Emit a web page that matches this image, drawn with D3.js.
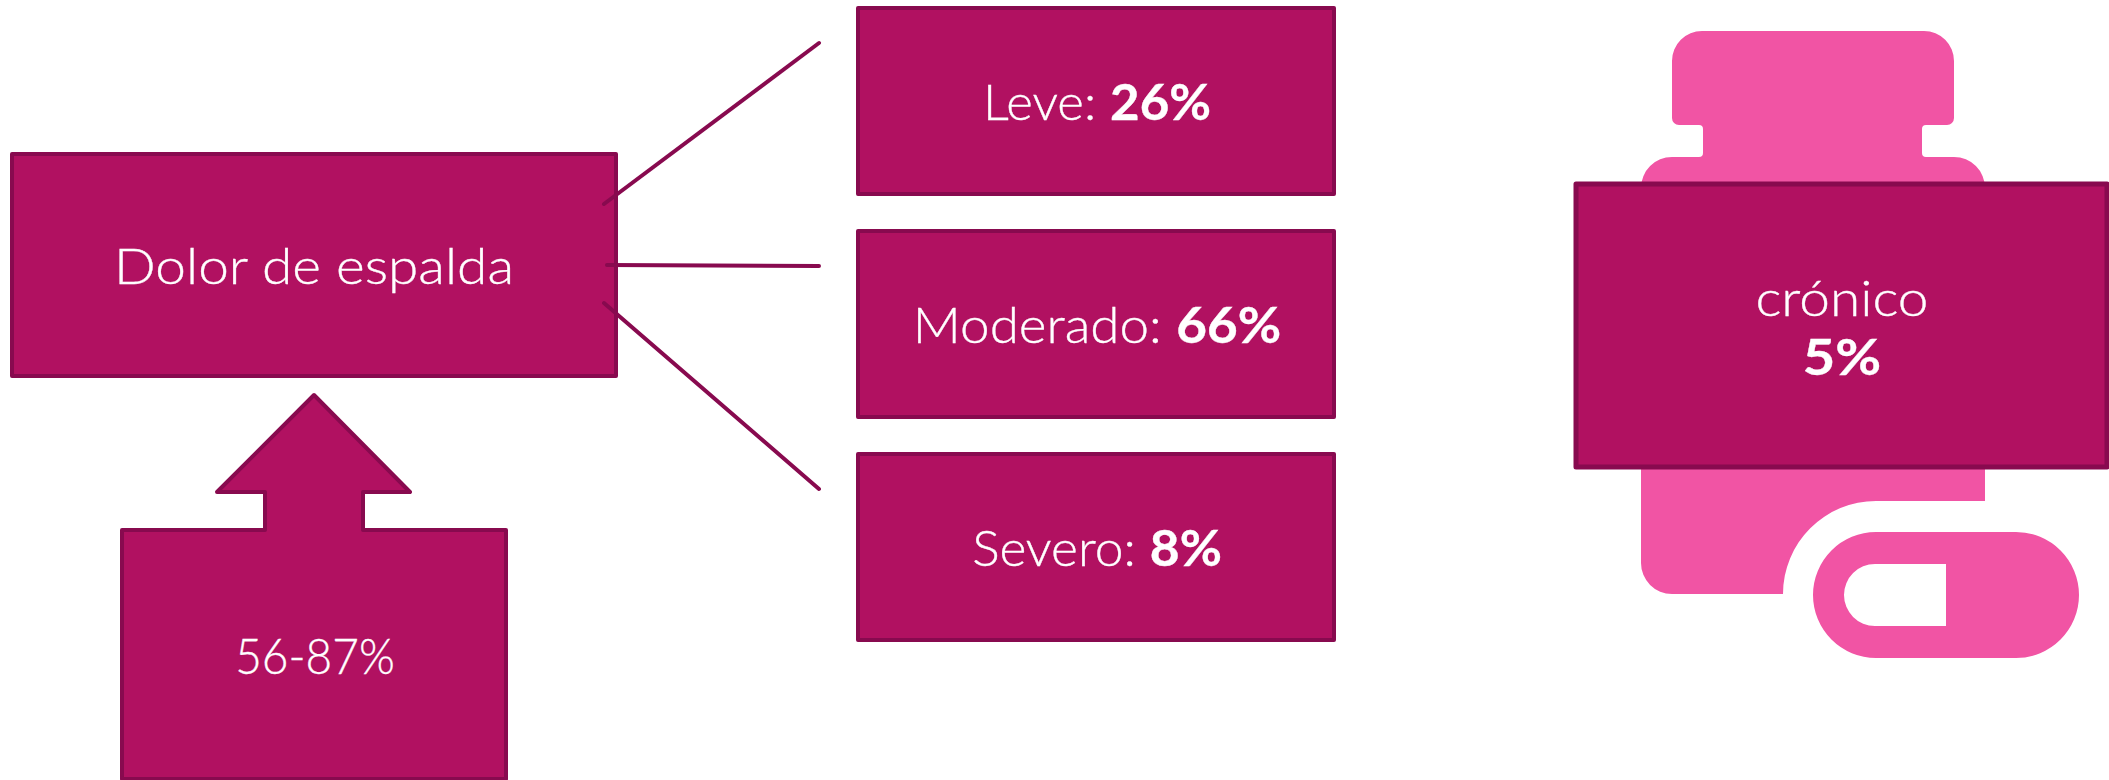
<!DOCTYPE html>
<html><head><meta charset="utf-8">
<script src="https://cdn.jsdelivr.net/npm/d3@7/dist/d3.min.js"></script>
<style>html,body{margin:0;padding:0;background:#fff;overflow:hidden}svg{display:block}</style>
</head><body><svg id="c" width="2109" height="780"></svg>
<script>
const severityLabels = ["Leve", "Moderado", "Severo"];
const severityValues = ["26%", "66%", "8%"];
const mainLabel = "Dolor de espalda";
const rangeLabel = "56-87%";
const chronicLabel = "crónico";
const chronicValue = "5%";

const FILL = "#b11161", STROKE = "#880a4f", PINK = "#f154a4";
const FONT = "Lato, 'Open Sans', sans-serif";
const FS = 50;
const svg = d3.select("#c");

const yBand = d3.scaleBand().domain(severityLabels).range([7, 641]).paddingInner(0.157).paddingOuter(0);
const yLink = d3.scaleOrdinal().domain(severityLabels).range([43, 266, 489]);
const yLinkStart = d3.scaleOrdinal().domain(severityLabels).range([204, 265, 303]);
const xLinkStart = d3.scaleOrdinal().domain(severityLabels).range([604, 607, 604]);
const stretchBy = d3.scaleOrdinal().domain(severityLabels).range([1.02, 1.06, 1.03]);

function box(x0, y0, x1, y1, sw) {
  svg.append("rect").attr("x", x0).attr("y", y0).attr("width", x1 - x0).attr("height", y1 - y0)
    .attr("fill", FILL).attr("stroke", STROKE).attr("stroke-width", sw || 4).attr("stroke-linejoin", "round");
}
function label(cx, base, parts, stretch) {
  const t = svg.append("text").attr("x", cx).attr("y", base).attr("text-anchor", "middle")
    .attr("font-family", FONT).attr("font-size", FS).attr("fill", "#fff")
    .attr("stroke", "#fff").attr("stroke-width", 0.35);
  parts.forEach(p => t.append("tspan").attr("font-weight", p[1] ? 700 : 300).text(p[0]));
  const w = t.node().getComputedTextLength();
  t.attr("textLength", w * stretch).attr("lengthAdjust", "spacingAndGlyphs");
}

// bottle icon
const p = d3.path();
p.moveTo(1702, 31); p.lineTo(1924, 31); p.arcTo(1954, 31, 1954, 61, 30);
p.lineTo(1954, 118); p.arcTo(1954, 125, 1947, 125, 7); p.lineTo(1926, 125);
p.arcTo(1922, 125, 1922, 129, 4); p.lineTo(1922, 153); p.arcTo(1922, 157, 1926, 157, 4);
p.lineTo(1954, 157); p.arcTo(1985, 157, 1985, 188, 31); p.lineTo(1985, 501); p.lineTo(1876, 501);
p.arc(1876, 594, 93, -Math.PI / 2, Math.PI, true);
p.lineTo(1672, 594); p.arcTo(1641, 594, 1641, 563, 31); p.lineTo(1641, 188);
p.arcTo(1641, 157, 1672, 157, 31); p.lineTo(1699, 157); p.arcTo(1703, 157, 1703, 153, 4);
p.lineTo(1703, 129); p.arcTo(1703, 125, 1699, 125, 4); p.lineTo(1679, 125);
p.arcTo(1672, 125, 1672, 118, 7); p.lineTo(1672, 61); p.arcTo(1672, 31, 1702, 31, 30); p.closePath();
svg.append("path").attr("d", p.toString()).attr("fill", PINK);

// pill icon
const q = d3.path();
q.moveTo(1876, 532); q.lineTo(2016, 532); q.arc(2016, 595, 63, -Math.PI / 2, Math.PI / 2);
q.lineTo(1876, 658); q.arc(1876, 595, 63, Math.PI / 2, -Math.PI / 2); q.closePath();
q.moveTo(1946, 564); q.lineTo(1875, 564); q.arc(1875, 595, 31, -Math.PI / 2, Math.PI / 2, true);
q.lineTo(1946, 626); q.closePath();
svg.append("path").attr("d", q.toString()).attr("fill", PINK).attr("fill-rule", "evenodd");

// main box
box(12, 154, 616, 376);
label(314, 284, [[mainLabel, false]], 1.1);

// connectors
severityLabels.forEach(s => {
  svg.append("line").attr("x1", xLinkStart(s)).attr("y1", yLinkStart(s))
    .attr("x2", 819).attr("y2", yLink(s))
    .attr("stroke", STROKE).attr("stroke-width", 4).attr("stroke-linecap", "round");
});

// severity boxes
severityLabels.forEach((s, i) => {
  const y0 = yBand(s), h = yBand.bandwidth();
  box(858, y0 + 1, 1334, y0 + h - 1);
  label(1097, y0 + h / 2 + 19, [[s + ": ", false], [severityValues[i], true]], stretchBy(s));
});

// arrow callout
const a = d3.path();
a.moveTo(314, 395); a.lineTo(410, 492); a.lineTo(363, 492); a.lineTo(363, 530); a.lineTo(506, 530);
a.lineTo(506, 779); a.lineTo(122, 779); a.lineTo(122, 530); a.lineTo(265, 530); a.lineTo(265, 492);
a.lineTo(217, 492); a.closePath();
svg.append("path").attr("d", a.toString()).attr("fill", FILL).attr("stroke", STROKE)
  .attr("stroke-width", 4).attr("stroke-linejoin", "round");
label(315, 674, [[rangeLabel, false]], 0.92);

// chronic box
box(1576, 184, 2107, 467, 5);
label(1842, 316, [[chronicLabel, false]], 1.1);
label(1842, 375, [[chronicValue, true]], 1.12);
</script></body></html>
